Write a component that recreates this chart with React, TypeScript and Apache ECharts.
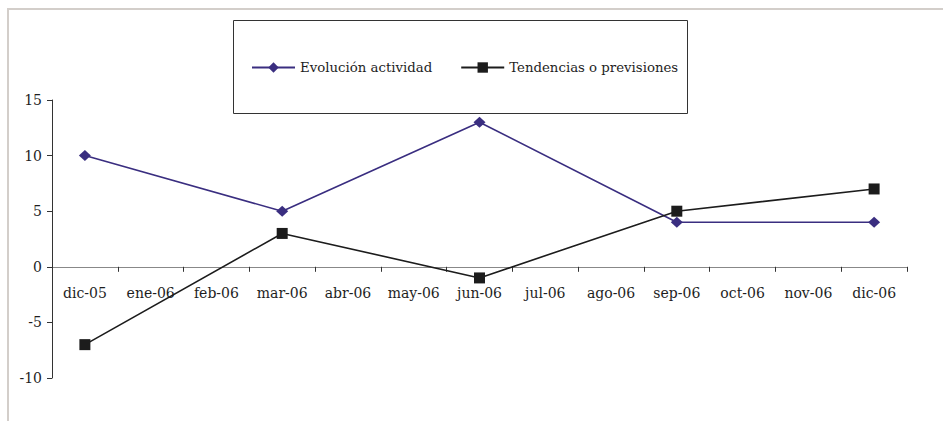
import React, { useEffect, useRef } from "react";
import * as echarts from "echarts";

const categories = [
  "dic-05", "ene-06", "feb-06", "mar-06", "abr-06", "may-06", "jun-06",
  "jul-06", "ago-06", "sep-06", "oct-06", "nov-06", "dic-06",
];
const evolucion: (number | null)[] = [10, null, null, 5, null, null, 13, null, null, 4, null, null, 4];
const tendencias: (number | null)[] = [-7, null, null, 3, null, null, -1, null, null, 5, null, null, 7];
const yTicks = { min: -10, max: 15, interval: 5 };

const FONT = "'DejaVu Serif', 'Liberation Serif', serif";

export default function App() {
  const ref = useRef<HTMLDivElement>(null);
  useEffect(() => {
    if (!ref.current) return;
    const chart = echarts.init(ref.current, undefined, { renderer: "svg" });
    const gridTop = 100;
    const gridBottom = 43;
    const plotH = 421 - gridTop - gridBottom;
    const zeroOffset = (plotH * (0 - yTicks.min)) / (yTicks.max - yTicks.min);
    chart.setOption({
      animation: false,
      backgroundColor: "#ffffff",
      textStyle: { fontFamily: FONT },
      grid: { left: 52, right: 36, top: gridTop, bottom: gridBottom, containLabel: false },
      graphic: [
        { type: "line", shape: { x1: 7, y1: 9, x2: 943, y2: 9 }, style: { stroke: "#d3ceca", lineWidth: 2 } },
        { type: "line", shape: { x1: 8, y1: 8, x2: 8, y2: 421 }, style: { stroke: "#d3ceca", lineWidth: 2 } },
        { type: "rect", shape: { x: 233.5, y: 20.5, width: 454, height: 93 }, style: { fill: "#ffffff", stroke: "#333333", lineWidth: 1 }, z: -1 },
      ],
      legend: {
        left: 251,
        top: 61,
        padding: 0,
        itemWidth: 43,
        itemHeight: 13,
        itemGap: 28,
        textStyle: { fontFamily: FONT, fontSize: 13.3, color: "#1e1e1e" },
        data: ["Evolución actividad", "Tendencias o previsiones"],
      },
      xAxis: {
        type: "category",
        data: categories,
        boundaryGap: true,
        offset: -zeroOffset,
        axisLine: { onZero: false, lineStyle: { color: "#888888", width: 1 } },
        axisTick: { show: true, interval: 0, length: 5, lineStyle: { color: "#333333" } },
        axisLabel: { interval: 0, margin: 19, fontFamily: FONT, fontSize: 14, color: "#1e1e1e" },
        splitLine: { show: false },
      },
      yAxis: {
        type: "value",
        min: yTicks.min,
        max: yTicks.max,
        interval: yTicks.interval,
        axisLine: { show: true, lineStyle: { color: "#333333" } },
        axisTick: { show: true, length: 5, lineStyle: { color: "#333333" } },
        axisLabel: { margin: 10, fontFamily: FONT, fontSize: 14, color: "#1e1e1e" },
        splitLine: { show: false },
      },
      series: [
        {
          name: "Evolución actividad",
          type: "line",
          data: evolucion,
          connectNulls: true,
          symbol: "diamond",
          symbolSize: [12, 11],
          showAllSymbol: true,
          lineStyle: { color: "#3a2e80", width: 1.6 },
          itemStyle: { color: "#3a2e80" },
        },
        {
          name: "Tendencias o previsiones",
          type: "line",
          data: tendencias,
          connectNulls: true,
          symbol: "rect",
          symbolSize: 11,
          showAllSymbol: true,
          lineStyle: { color: "#1c1c1c", width: 1.6 },
          itemStyle: { color: "#1c1c1c" },
        },
      ],
    });
    return () => chart.dispose();
  }, []);
  return <div ref={ref} style={{ position: "fixed", left: 0, top: 0, width: 943, height: 421 }} />;
}
